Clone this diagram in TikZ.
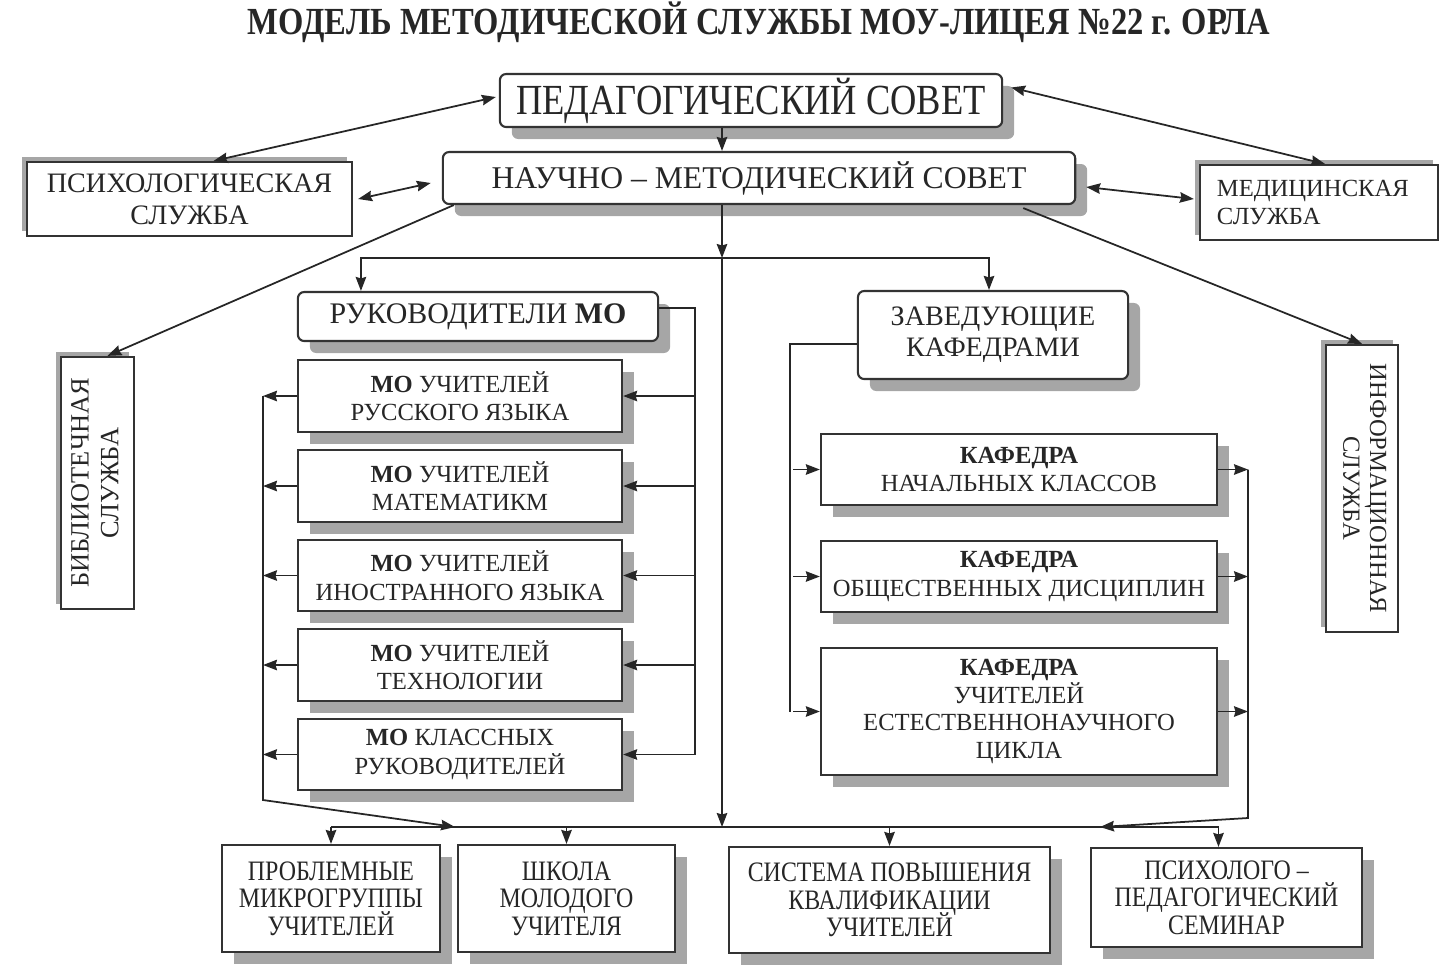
\documentclass[tikz,border=0pt]{standalone}
\usepackage{fontspec}
\setmainfont{Liberation Serif}
\newfontfamily\condfont[FakeStretch=0.85]{Liberation Serif}
\usepackage{tikz}
\usetikzlibrary{positioning, arrows.meta, shadows}

\tikzset{
  box/.style={draw=black!80, line width=0.6pt, fill=white, inner sep=1pt, align=center, text=black!85, font=\fontsize{7}{8.1}\selectfont},
  rbox/.style={box, rounded corners=1.8pt},
  formbox/.style={box, font={\condfont\fontsize{8}{7.8}\selectfont\lineskiplimit-10pt\relax}},
  shadowR/.style={drop shadow={shadow xshift=0.12cm, shadow yshift=-0.12cm, fill=black!35, opacity=1}},
  shadowL/.style={drop shadow={shadow xshift=-0.05cm, shadow yshift=0.05cm, fill=black!35, opacity=1}},
  link/.style={draw=black!85, line width=0.5pt},
  arr/.style={link, -{Stealth[length=1.4mm, width=1.05mm, inset=0.15mm]}},
  darr/.style={link, {Stealth[length=1.4mm, width=1.05mm, inset=0.15mm]}-{Stealth[length=1.4mm, width=1.05mm, inset=0.15mm]}},
}

\begin{document}
\begin{tikzpicture}[x=0.01cm, y=-0.01cm]
  \useasboundingbox (0,0) rectangle (1440,969);

  \node[text=black!85, font=\condfont\bfseries\fontsize{10.9}{12}\selectfont] (title) at (759, 22) {МОДЕЛЬ МЕТОДИЧЕСКОЙ СЛУЖБЫ МОУ-ЛИЦЕЯ №22 г. ОРЛА};

  % councils
  \node[rbox, shadowR, minimum width=5.02cm, minimum height=0.53cm, font=\condfont\fontsize{12.2}{13}\selectfont] (ped) at (751, 100.5) {ПЕДАГОГИЧЕСКИЙ СОВЕТ};
  \node[rbox, shadowR, minimum width=6.32cm, minimum height=0.52cm, font=\fontsize{9}{10}\selectfont] (nms) at (759, 178) {НАУЧНО – МЕТОДИЧЕСКИЙ СОВЕТ};

  % services
  \node[box, shadowL, minimum width=3.25cm, minimum height=0.74cm, font=\fontsize{8}{9.1}\selectfont] (psy) at (189.5, 199) {ПСИХОЛОГИЧЕСКАЯ\\СЛУЖБА};
  \node[box, shadowL, minimum width=2.38cm, minimum height=0.75cm, text width=2.04cm, align=left, font=\fontsize{7}{7.8}\selectfont] (med) at (1319, 202.5) {МЕДИЦИНСКАЯ\\СЛУЖБА};
  \node[box, shadowL, minimum width=0.73cm, minimum height=2.52cm, font=\fontsize{7.5}{8.5}\selectfont] (bib) at (97.5, 483) {\rotatebox{90}{\begin{tabular}{@{}c@{}}БИБЛИОТЕЧНАЯ\\СЛУЖБА\end{tabular}}};
  \node[box, shadowL, minimum width=0.72cm, minimum height=2.87cm, font=\fontsize{7}{7.6}\selectfont] (inf) at (1362, 488.5) {\rotatebox{-90}{\begin{tabular}{@{}c@{}}ИНФОРМАЦИОННАЯ\\СЛУЖБА\end{tabular}}};

  % heads
  \node[rbox, shadowR, minimum width=3.60cm, minimum height=0.49cm, font=\fontsize{8.5}{10}\selectfont] (ruk) at (478, 316.5) {РУКОВОДИТЕЛИ \textbf{МО}};
  \node[rbox, shadowR, minimum width=2.70cm, minimum height=0.88cm, font=\fontsize{8}{8.9}\selectfont] (zav) at (993, 335) {ЗАВЕДУЮЩИЕ\\КАФЕДРАМИ};

  % methodical unions
  \node[box, shadowR, minimum width=3.24cm, minimum height=0.72cm] (mo1) at (460, 396) {\textbf{МО} УЧИТЕЛЕЙ\\РУССКОГО ЯЗЫКА};
  \node[box, shadowR, minimum width=3.24cm, minimum height=0.72cm] (mo2) at (460, 486) {\textbf{МО} УЧИТЕЛЕЙ\\МАТЕМАТИКМ};
  \node[box, shadowR, minimum width=3.24cm, minimum height=0.71cm] (mo3) at (460, 575.5) {\textbf{МО} УЧИТЕЛЕЙ\\ИНОСТРАННОГО ЯЗЫКА};
  \node[box, shadowR, minimum width=3.24cm, minimum height=0.72cm] (mo4) at (460, 665) {\textbf{МО} УЧИТЕЛЕЙ\\ТЕХНОЛОГИИ};
  \node[box, shadowR, minimum width=3.24cm, minimum height=0.71cm] (mo5) at (460, 754.5) {\textbf{МО} КЛАССНЫХ\\РУКОВОДИТЕЛЕЙ};

  % departments
  \node[box, shadowR, minimum width=3.96cm, minimum height=0.71cm] (kaf1) at (1019, 469.5) {\textbf{КАФЕДРА}\\НАЧАЛЬНЫХ КЛАССОВ};
  \node[box, shadowR, minimum width=3.96cm, minimum height=0.71cm] (kaf2) at (1019, 576.5) {\textbf{КАФЕДРА}\\ОБЩЕСТВЕННЫХ ДИСЦИПЛИН};
  \node[box, shadowR, minimum width=3.96cm, minimum height=1.27cm, font=\fontsize{7}{7.8}\selectfont] (kaf3) at (1019, 711.5) {\textbf{КАФЕДРА}\\УЧИТЕЛЕЙ\\ЕСТЕСТВЕННОНАУЧНОГО\\ЦИКЛА};

  % forms of work
  \node[formbox, shadowR, minimum width=2.18cm, minimum height=1.07cm] (prob) at (331, 898.5) {ПРОБЛЕМНЫЕ\\МИКРОГРУППЫ\\УЧИТЕЛЕЙ};
  \node[formbox, shadowR, minimum width=2.17cm, minimum height=1.07cm] (shk) at (566.5, 898.5) {ШКОЛА\\МОЛОДОГО\\УЧИТЕЛЯ};
  \node[formbox, shadowR, minimum width=3.21cm, minimum height=1.06cm] (sys) at (889.5, 900) {СИСТЕМА ПОВЫШЕНИЯ\\КВАЛИФИКАЦИИ\\УЧИТЕЛЕЙ};
  \node[formbox, shadowR, minimum width=2.71cm, minimum height=0.99cm] (psp) at (1226.5, 897.5) {ПСИХОЛОГО –\\ПЕДАГОГИЧЕСКИЙ\\СЕМИНАР};

  % helper points
  \coordinate (top) at (722, 258);
  \coordinate (bus) at (722, 827);
  \coordinate (rk) at (695, 0);
  \coordinate (lk) at (263, 0);
  \coordinate (zk) at (790, 0);
  \coordinate (kk) at (1248, 0);
  \coordinate (lbend) at (263, 800);
  \coordinate (rbend) at (1248, 818);
  \coordinate (lin) at (455, 827);
  \coordinate (rin) at (1100, 827);

  % top links
  \draw[darr] ([xshift=-0.03cm, yshift=0.035cm]ped.west) -- ([xshift=0.24cm]psy.north);
  \draw[darr] ([xshift=0.08cm, yshift=0.13cm]ped.east) -- ([xshift=0.06cm]med.north);
  \draw[arr] (ped.south -| top) -- (nms.north -| top);
  \draw[darr] ([xshift=0.05cm]psy.east) -- ([xshift=-0.11cm, yshift=-0.05cm]nms.west);
  \draw[darr] ([xshift=0.1cm, yshift=-0.09cm]nms.east) -- ([xshift=-0.05cm, yshift=0.035cm]med.west);
  \draw[arr] ([xshift=0.12cm]nms.south west) -- ([xshift=0.1cm]bib.north);
  \draw[arr] ([xshift=-0.53cm, yshift=-0.03cm]nms.south east) -- (inf.north);

  % trunk and branches
  \draw[arr] (nms.south -| top) -- (top);
  \draw[arr] (top) -- (bus);
  \draw[arr] (top) -| ([xshift=-1.17cm]ruk.north);
  \draw[arr] (top) -| ([xshift=-0.04cm]zav.north);

  % heads of unions
  \draw[link] ([yshift=0.085cm]ruk.east) -| (mo5.east -| rk);
  \draw[arr] (mo1.east -| rk) -- (mo1.east);
  \draw[arr] (mo2.east -| rk) -- (mo2.east);
  \draw[arr] (mo3.east -| rk) -- (mo3.east);
  \draw[arr] (mo4.east -| rk) -- (mo4.east);
  \draw[arr] (mo5.east -| rk) -- (mo5.east);

  \draw[arr] (mo1.west) -- (mo1.west -| lk);
  \draw[arr] (mo2.west) -- (mo2.west -| lk);
  \draw[arr] (mo3.west) -- (mo3.west -| lk);
  \draw[arr] (mo4.west) -- (mo4.west -| lk);
  \draw[arr] (mo5.west) -- (mo5.west -| lk);
  \draw[arr] (mo1.west -| lk) -- (lbend) -- (lin);

  % heads of departments
  \draw[link] ([yshift=-0.09cm]zav.west) -| (kaf3.west -| zk);
  \draw[arr] ([xshift=0.03cm]kaf1.west -| zk) -- (kaf1.west);
  \draw[arr] ([xshift=0.03cm]kaf2.west -| zk) -- (kaf2.west);
  \draw[arr] ([xshift=0.03cm]kaf3.west -| zk) -- (kaf3.west);

  \draw[arr] (kaf1.east) -- (kaf1.east -| kk);
  \draw[arr] (kaf2.east) -- (kaf2.east -| kk);
  \draw[arr] (kaf3.east) -- (kaf3.east -| kk);
  \draw[arr] (kaf1.east -| kk) -- (rbend) -- (rin);

  % bottom bus
  \draw[link] (prob.north |- bus) -- ([xshift=-0.08cm]psp.north |- bus);
  \draw[arr] (prob.north |- bus) -- (prob.north);
  \draw[arr] (shk.north |- bus) -- (shk.north);
  \draw[arr] (sys.north |- bus) -- (sys.north);
  \draw[arr] ([xshift=-0.08cm]psp.north |- bus) -- ([xshift=-0.08cm]psp.north);
\end{tikzpicture}
\end{document}
